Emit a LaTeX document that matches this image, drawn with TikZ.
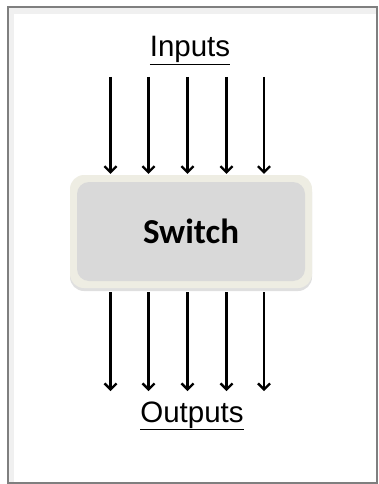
\documentclass[tikz,border=0pt]{standalone}
\usepackage{fontspec}
\setmainfont{Liberation Sans}
\newfontfamily\boxfont{Carlito}
\usepackage{tikz}
\usetikzlibrary{arrows.meta, positioning, shadows}
\definecolor{framegray}{HTML}{7F7F7F}
\definecolor{cream}{HTML}{EEEDE3}
\definecolor{boxgray}{HTML}{D9D9D9}

\tikzset{
  flow/.style={line width=2.3pt, -{Straight Barb[length=6pt, width=12pt, line width=2.3pt]}},
  caption/.style={font=\fontsize{29.5}{32}\selectfont, anchor=base},
}

\begin{document}
\begin{tikzpicture}[x=1pt, y=-1pt]
  \useasboundingbox (0,0) rectangle (378,484);

  % frame
  \fill[gray!12] (8,8) rectangle (376,14);
  \fill[gray!12] (8,8) rectangle (14,482);
  \draw[framegray, line width=2pt] (7.5,7.5) rectangle (376.5,482.5);

  % switch box
  \node[draw=none, fill=cream, rounded corners=14pt, minimum width=242pt, minimum height=113pt,
        drop shadow={opacity=0.25, shadow xshift=0pt, shadow yshift=-3pt}] (sw) at (191,231.5) {};
  \node[fill=boxgray, rounded corners=12pt, minimum width=228pt, minimum height=99pt,
        font=\boxfont\bfseries\fontsize{35}{38}\selectfont] (swin) at (sw.center) {Switch};

  % labels
  \node[caption] (in) at (190,57) {\underline{Inputs}};
  \node[caption] (out) at (192,422) {\underline{Outputs}};

  % arrows
  \foreach \i/\x in {1/110.5,2/148.5,3/187.5,4/226.5,5/264} {
    \coordinate (in\i) at (\x,77);
    \coordinate (out\i) at (\x,391);
    \draw[flow, shorten >=1pt] (in\i) -- (in\i |- sw.north);
    \draw[flow, shorten <=4pt] (out\i |- sw.south) -- (out\i);
  }
\end{tikzpicture}
\end{document}
